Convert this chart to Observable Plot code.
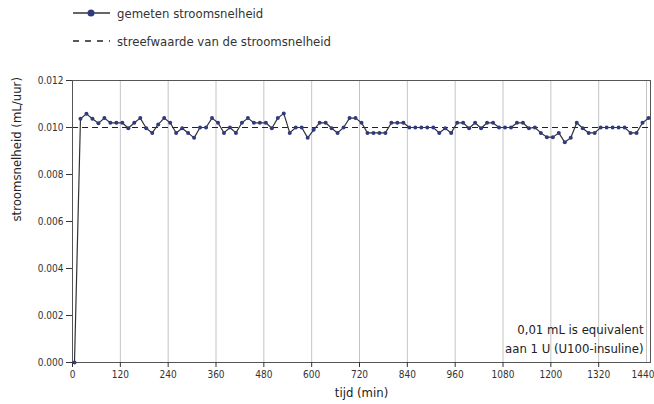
<!DOCTYPE html>
<html>
<head>
<meta charset="utf-8">
<script src="https://cdn.jsdelivr.net/npm/d3@7"></script>
<script src="https://cdn.jsdelivr.net/npm/@observablehq/plot@0.6"></script>
<style>
  body { margin: 0; background: #fff; }
  #wrap { width: 654px; font-family: "Liberation Sans Narrow", "Arial Narrow", "DejaVu Sans Condensed", sans-serif; font-stretch: condensed; color: #333; }
  #legend { position: relative; height: 60px; }
  .row { position: absolute; left: 73px; height: 16px; display: flex; align-items: center; font-size: 13px; }
  .row svg { margin-right: 7px; }
</style>
</head>
<body>
<div id="wrap">
  <div id="legend">
    <div class="row" style="top:5px">
      <svg width="37" height="10"><line x1="0" x2="37" y1="5" y2="5" stroke="#333" stroke-width="1.5"/><circle cx="18" cy="5" r="3.5" fill="#2f3b7e"/></svg>
      <span>gemeten stroomsnelheid</span>
    </div>
    <div class="row" style="top:33px">
      <svg width="37" height="10"><line x1="0" x2="37" y1="5" y2="5" stroke="#222" stroke-width="1.3" stroke-dasharray="6,6"/></svg>
      <span>streefwaarde van de stroomsnelheid</span>
    </div>
  </div>
  <div id="chart"></div>
</div>
<script>
const times = [5,20,35,50,65,80,95,110,125,140,155,170,185,200,215,230,245,260,275,290,305,320,335,350,365,380,395,410,425,440,455,470,485,500,515,530,545,560,575,590,605,620,635,650,665,680,695,710,725,740,755,770,785,800,815,830,845,860,875,890,905,920,935,950,965,980,995,1010,1025,1040,1055,1070,1085,1100,1115,1130,1145,1160,1175,1190,1205,1220,1235,1250,1265,1280,1295,1310,1325,1340,1355,1370,1385,1400,1415,1430,1445];
const flows = [0,
  0.01037,0.01058,0.01037,0.01018,0.0104,0.0102,0.0102,0.0102,0.00997,0.0102,
  0.0104,0.00997,0.00977,0.01013,0.0104,0.0102,0.00977,0.00997,0.00977,0.00956,
  0.0100,0.0100,0.0104,0.0102,0.00977,0.0100,0.00977,0.0102,0.0104,0.0102,
  0.0102,0.0102,0.00997,0.0104,0.0106,0.00977,0.0100,0.0100,0.00956,0.0099,
  0.0102,0.0102,0.00997,0.00977,0.0100,0.0104,0.0104,0.0102,0.00977,0.00977,
  0.00977,0.00977,0.0102,0.0102,0.0102,0.0100,0.0100,0.0100,0.0100,0.0100,
  0.00977,0.00997,0.00977,0.0102,0.0102,0.00997,0.0102,0.00997,0.0102,0.0102,
  0.0100,0.0100,0.0100,0.0102,0.0102,0.00997,0.0100,0.00977,0.00959,0.00959,
  0.00977,0.00937,0.00956,0.0102,0.00997,0.00977,0.00977,0.0100,0.0100,0.0100,
  0.0100,0.0100,0.00977,0.00977,0.0102,0.0104];
const targetFlow = 0.010;
const xTicks = [0,120,240,360,480,600,720,840,960,1080,1200,1320,1440];
const yTicks = [0,0.002,0.004,0.006,0.008,0.010,0.012];
const noteLines = ["0,01 mL is equivalent", "aan 1 U (U100-insuline)"];
const xLabel = "tijd (min)";
const yLabel = "stroomsnelheid (mL/uur)";

const data = times.map((t, i) => ({t, v: flows[i]}));
const lastTick = xTicks[xTicks.length - 1];

const plot = Plot.plot({
  width: 654,
  height: 344,
  marginTop: 20,
  marginBottom: 42,
  marginLeft: 72,
  marginRight: 4,
  style: {fontFamily: '"Liberation Sans Narrow", "Arial Narrow", "DejaVu Sans Condensed", sans-serif', fontSize: "10px", color: "#333", background: "#fff"},
  x: {domain: [0, 1450], ticks: xTicks},
  y: {domain: [0, 0.012], ticks: yTicks},
  marks: [
    Plot.gridX(xTicks, {stroke: "#c4c4c4", strokeOpacity: 1, strokeWidth: 1}),
    Plot.ruleY([targetFlow], {stroke: "#222", strokeWidth: 1.2, strokeDasharray: "6,4"}),
    Plot.frame({stroke: "#555", strokeWidth: 1}),
    Plot.axisX(xTicks.slice(0, -1), {tickSize: 5, tickPadding: 3, tickFormat: d => String(d), label: null, stroke: "#333"}),
    Plot.axisX([lastTick], {tickSize: 5, tickPadding: 3, tickFormat: d => String(d), label: null, stroke: "#333", textAnchor: "end", dx: 8}),
    Plot.axisY({ticks: yTicks, tickSize: 6, tickPadding: 3, tickFormat: d3.format(".3f"), label: null, stroke: "#333"}),
    Plot.line(data, {x: "t", y: "v", stroke: "#333", strokeWidth: 1.2}),
    Plot.dot(data, {x: "t", y: "v", r: 2, fill: "#2f3b7e"}),
    Plot.text([noteLines.join("\n")], {frameAnchor: "bottom-right", dx: -7, dy: -10, fontSize: 13, lineHeight: 1.4, fill: "#222", textAnchor: "end"}),
    Plot.text([xLabel], {frameAnchor: "bottom", dy: 34, fontSize: 13, fill: "#222"}),
    Plot.text([yLabel], {frameAnchor: "left", dx: -56, rotate: -90, fontSize: 13, fill: "#222"})
  ]
});
document.getElementById("chart").appendChild(plot);
</script>
</body>
</html>
